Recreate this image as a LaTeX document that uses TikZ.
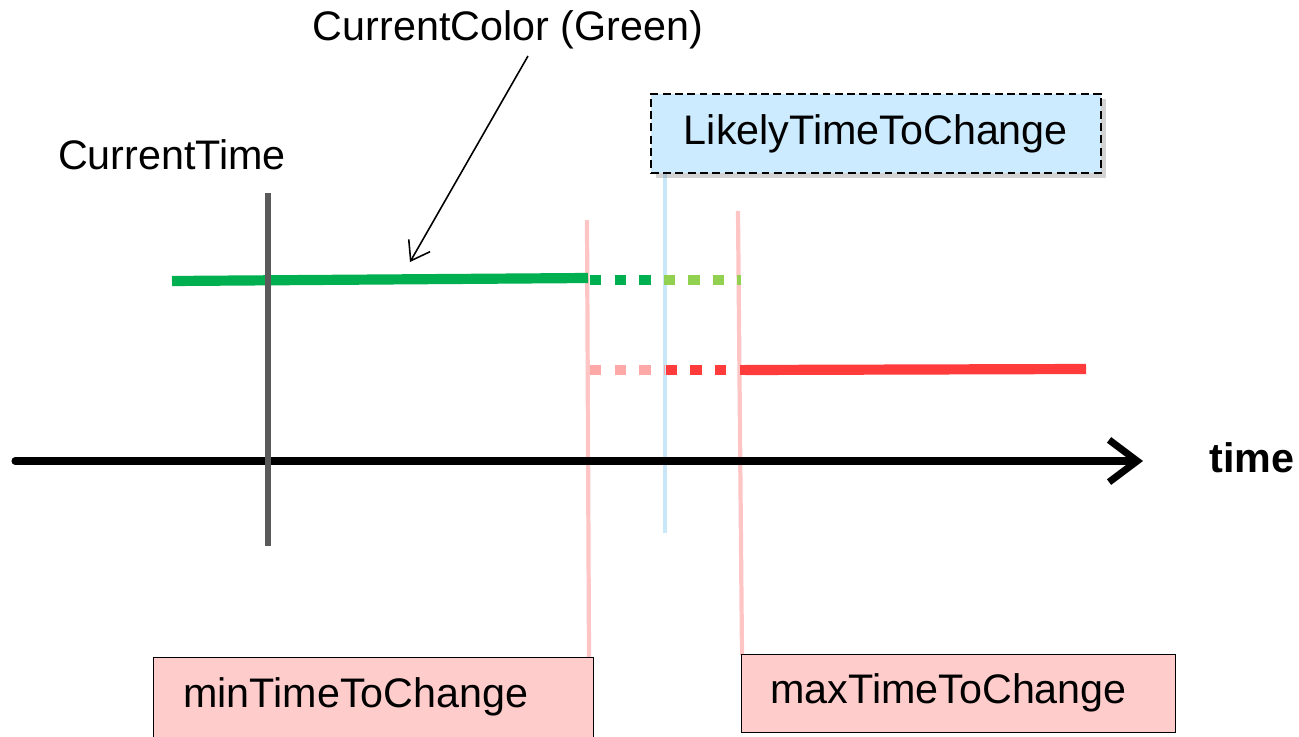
\documentclass[tikz,border=0pt]{standalone}
\usepackage{fontspec}
\setmainfont{Liberation Sans}
\usetikzlibrary{arrows.meta,shadows}
\definecolor{gmain}{HTML}{00B050}
\definecolor{glight}{HTML}{92D050}
\definecolor{rmain}{HTML}{FF3B3B}
\definecolor{rlight}{HTML}{FFA8A8}
\definecolor{pinkline}{HTML}{FFC4C4}
\definecolor{blueline}{HTML}{C8E8FA}
\definecolor{boxpink}{HTML}{FFCCCC}
\definecolor{boxblue}{HTML}{CCEBFF}
\definecolor{grayline}{HTML}{5A5A5A}
\tikzset{
  lbl/.style={font=\fontsize{23.5}{27}\selectfont, inner sep=0pt},
  pinkbox/.style={draw=black, line width=0.8pt, fill=boxpink, inner sep=0pt, anchor=north west},
  dotline/.style={line width=5.5pt, dash pattern=on 6.5pt off 7.5pt},
}
\begin{document}
\begin{tikzpicture}[x=0.02cm,y=-0.02cm]
\useasboundingbox (0,0) rectangle (1299,737);
% vertical guide lines
\draw[pinkline, line width=2.4pt] (587,220) -- (589,657);
\draw[pinkline, line width=2.4pt] (738,211) -- (742,655);
\draw[blueline, line width=2.4pt] (665,172) -- (665,533);
% green line
\draw[gmain, line width=5.8pt] (172,281) -- (588,278);
\draw[gmain, dotline] (590,280) -- (660,280);
\draw[glight, dotline, dash phase=-2pt] (660,280) -- (741,280);
% red line
\draw[rlight, dotline] (590,370) -- (664,370);
\draw[rmain, dotline, dash phase=-1pt] (664,370) -- (745,370);
\draw[rmain, line width=5.8pt] (745,370) -- (1086,369);
% time axis
\coordinate (ax0) at (15,461);
\coordinate (ax1) at (1143,461);
\draw[line width=4pt, -{Straight Barb[length=16pt,width=24pt,line width=4pt]}, line cap=round] (ax0) -- (ax1);
\node[lbl, font=\fontsize{23.5}{27}\selectfont\bfseries] (time) at (1252,458) {time};
% current time
\draw[grayline, line width=3.4pt] (268,193) -- (268,546);
\node[lbl] (ct) at (172,155) {CurrentTime};
% current colour
\node[lbl] (cc) at (508,30) {CurrentColor (Green)};
\coordinate (ccend) at (410,262);
\draw[line width=0.9pt, -{Straight Barb[length=10pt,width=14pt,line width=0.9pt]}] (528,56) -- (ccend);
% boxes
\node[draw=black, line width=1pt, dash pattern=on 4.5pt off 2.5pt, fill=boxblue, drop shadow={shadow xshift=3pt, shadow yshift=-3pt, opacity=0.35}, minimum width=450*0.02cm, minimum height=79*0.02cm, anchor=north west, inner sep=0pt] (likely) at (650,93) {};
\node[lbl] at (likely.center) {LikelyTimeToChange};
\node[pinkbox, minimum width=440*0.02cm, minimum height=90*0.02cm] (minb) at (153,657) {};
\node[lbl, anchor=west] at (183,697) {minTimeToChange};
\node[pinkbox, minimum width=434*0.02cm, minimum height=78*0.02cm] (maxb) at (741,654) {};
\node[lbl, anchor=west] at (770,693) {maxTimeToChange};
\end{tikzpicture}
\end{document}
